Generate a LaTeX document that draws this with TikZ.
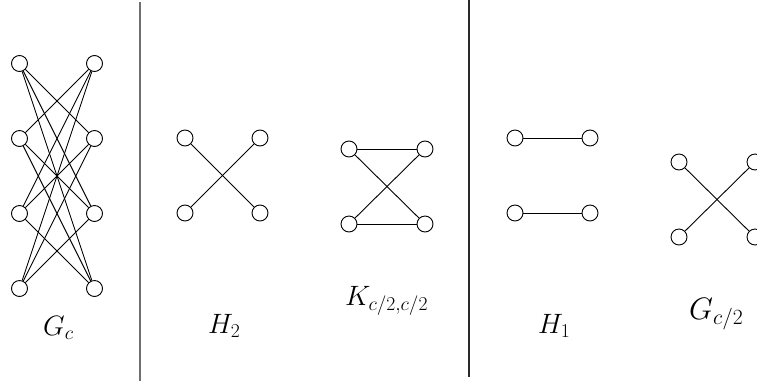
\RequirePackage{fix-cm}
\documentclass[tikz,border=0pt]{standalone}
\usepackage{tikz}
\usetikzlibrary{positioning}
\definecolor{sepGray}{HTML}{707070}
\definecolor{sepDark}{HTML}{2A2A2A}

\begin{document}
\begin{tikzpicture}[
  x=1pt, y=-1pt,
  vertex/.style={circle, draw, line width=0.9pt, minimum size=16pt, inner sep=0pt},
  edge/.style={line width=0.9pt},
  glabel/.style={font=\fontsize{28}{32}\selectfont, anchor=base west, inner sep=0pt},
  biglabel/.style={font=\fontsize{31}{36}\selectfont, anchor=base west, inner sep=0pt},
  divider/.style={line width=1.3pt},
]
\useasboundingbox (0,0) rectangle (757,381);
\clip (0,0) rectangle (757,381);

% G_c
\foreach \i/\y in {1/63.5, 2/138.5, 3/213.5, 4/288.5} {
  \node[vertex] (gl\i) at (19.5,\y) {};
  \node[vertex] (gr\i) at (94.5,\y) {};
}
\foreach \i in {1,...,4}
  \foreach \j in {1,...,4} {
    \ifnum\i=\j\relax\else\draw[edge] (gl\i) -- (gr\j);\fi
  }
\node[glabel] (gc_lbl) at (43,335) {$G_c$};

% Divider 1
\coordinate (d1top) at (140,2);
\coordinate (d1bot) at (140,381);
\draw[divider, sepGray] (d1top) -- (d1bot);

% H_2
\node[vertex] (ha1) at (185,138) {};
\node[vertex] (hb1) at (260,138) {};
\node[vertex] (ha2) at (185,213) {};
\node[vertex] (hb2) at (260,213) {};
\draw[edge] (ha1) -- (hb2);
\draw[edge] (ha2) -- (hb1);
\node[glabel] (h2_lbl) at (208,333) {$H_2$};

% K_{c/2,c/2}
\node[vertex] (ka1) at (349,149) {};
\node[vertex] (kb1) at (425,149) {};
\node[vertex] (ka2) at (349,224) {};
\node[vertex] (kb2) at (425,224) {};
\draw[edge] (ka1) -- (kb1);
\draw[edge] (ka2) -- (kb2);
\draw[edge] (ka1) -- (kb2);
\draw[edge] (ka2) -- (kb1);
\node[glabel] (k_lbl) at (345,305) {$K_{c/2,c/2}$};

% Divider 2
\coordinate (d2top) at (469,0);
\coordinate (d2bot) at (469,377);
\draw[divider, sepDark] (d2top) -- (d2bot);

% H_1
\node[vertex] (ea1) at (515,138) {};
\node[vertex] (eb1) at (590,138) {};
\node[vertex] (ea2) at (515,213) {};
\node[vertex] (eb2) at (590,213) {};
\draw[edge] (ea1) -- (eb1);
\draw[edge] (ea2) -- (eb2);
\node[glabel] (h1_lbl) at (538,333) {$H_1$};

% G_{c/2}
\node[vertex] (sa1) at (679,162) {};
\node[vertex] (sb1) at (755,162) {};
\node[vertex] (sa2) at (679,237) {};
\node[vertex] (sb2) at (755,237) {};
\draw[edge] (sa1) -- (sb2);
\draw[edge] (sa2) -- (sb1);
\node[biglabel] (gh_lbl) at (689,319) {$G_{c/2}$};

\end{tikzpicture}
\end{document}
